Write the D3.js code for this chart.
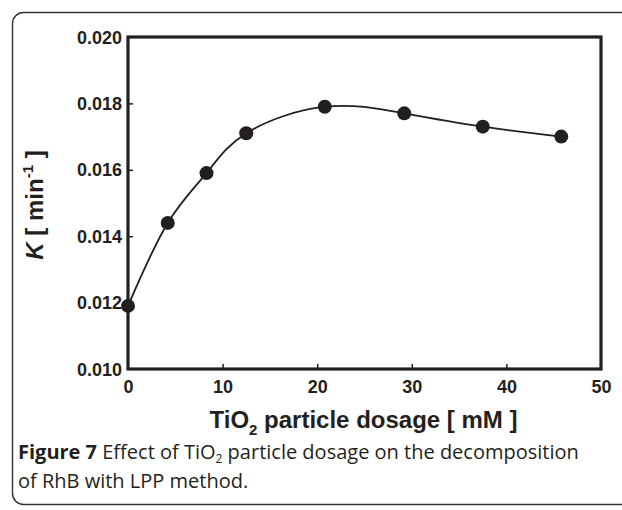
<!DOCTYPE html>
<html>
<head>
<meta charset="utf-8">
<script src="https://cdn.jsdelivr.net/npm/d3@7"></script>
<style>
  body { margin: 0; background: #fff; }
  svg { display: block; }
</style>
</head>
<body>
<svg id="chart" width="622" height="510"></svg>
<script>
// dosage of TiO2 [mM] and rate constant K [1/min]
const dosage = [0, 4.2, 8.3, 12.5, 20.8, 29.2, 37.5, 45.8];
const rateK = [0.0119, 0.0144, 0.0159, 0.0171, 0.0179, 0.0177, 0.0173, 0.0170];
const xTicks = [0, 10, 20, 30, 40, 50];
const yTicks = [0.010, 0.012, 0.014, 0.016, 0.018, 0.020];

const margin = { top: 37, right: 21, bottom: 141, left: 128 };
const W = 622, H = 510;
const w = W - margin.left - margin.right;
const h = H - margin.top - margin.bottom;

const svg = d3.select('#chart');

// rounded frame around figure and caption (right side runs off the page)
svg.append("rect")
    .attr("x", 12.5).attr("y", 12.5)
    .attr("width", 700).attr("height", 492)
    .attr("rx", 11).attr("ry", 11)
    .attr("fill", "none")
    .attr("stroke", "#333")
    .attr("stroke-width", 1.4);

const g = svg.append("g")
    .attr("transform", `translate(${margin.left},${margin.top})`);

const x = d3.scaleLinear().domain([0, 50]).range([0, w]);
const y = d3.scaleLinear().domain([0.010, 0.020]).range([h, 0]);

const font = "'Liberation Sans', Arial, sans-serif";

// axes, ticks pointing inward
const xAxis = g.append("g")
    .attr("transform", `translate(0,${h})`)
    .call(d3.axisBottom(x).tickValues(xTicks).tickSize(-5).tickPadding(10).tickFormat(d3.format("d")));
const yAxis = g.append("g")
    .call(d3.axisLeft(y).tickValues(yTicks).tickSize(-5).tickPadding(6).tickFormat(d3.format(".3f")));

[xAxis, yAxis].forEach(a => {
    a.select(".domain").remove();
    a.attr("font-size", 18).attr("font-family", font).attr("font-weight", "bold");
    a.selectAll("line").attr("stroke", "#231f20").attr("stroke-width", 1.5);
    a.selectAll("text").attr("fill", "#231f20");
});
// ticks at the corners are hidden by the box
xAxis.selectAll(".tick line").filter(d => d === 0 || d === 50).remove();
yAxis.selectAll(".tick line").filter(d => d === 0.010 || d === 0.020).remove();
xAxis.selectAll(".tick text").attr("dy", "0.75em");
yAxis.selectAll(".tick text").attr("dy", "0.34em");

// plot box
g.append("rect")
    .attr("width", w).attr("height", h)
    .attr("fill", "none")
    .attr("stroke", "#231f20")
    .attr("stroke-width", 3.2);

// smooth fitted curve
const line = d3.line()
    .x((d, i) => x(dosage[i]))
    .y(d => y(d))
    .curve(d3.curveNatural);

g.append("path")
    .datum(rateK)
    .attr("d", line)
    .attr("fill", "none")
    .attr("stroke", "#231f20")
    .attr("stroke-width", 1.8);

g.selectAll("circle")
    .data(rateK)
    .join("circle")
    .attr("cx", (d, i) => x(dosage[i]))
    .attr("cy", d => y(d))
    .attr("r", 7)
    .attr("fill", "#231f20");

// y label: K [ min-1 ]
const yl = svg.append("text")
    .attr("transform", `translate(43,${margin.top + h / 2 + 2}) rotate(-90)`)
    .attr("text-anchor", "middle")
    .attr("fill", "#231f20")
    .style("font", `bold 24px ${font}`);
yl.append("tspan").attr("font-style", "italic").text("K");
yl.append("tspan").text(" [ min");
yl.append("tspan").attr("font-size", 15).attr("dy", -10).text("-1");
yl.append("tspan").attr("dy", 10).text(" ]");

// x label: TiO2 particle dosage [ mM ]
const xl = svg.append("text")
    .attr("x", margin.left + w / 2 - 1)
    .attr("y", 428)
    .attr("text-anchor", "middle")
    .attr("fill", "#231f20")
    .style("font", `bold 24px ${font}`);
xl.append("tspan").text("TiO");
xl.append("tspan").attr("font-size", 15).attr("dy", 7).text("2");
xl.append("tspan").attr("dy", -7).text(" particle dosage [ mM ]");

// caption
const capFont = "'Open Sans', 'Noto Sans', sans-serif";
const c1 = svg.append("text")
    .attr("x", 18).attr("y", 459)
    .attr("fill", "#231f20")
    .style("font", `20px ${capFont}`);
c1.append("tspan").attr("font-weight", "bold").text("Figure 7");
c1.append("tspan").text(" Effect of TiO");
c1.append("tspan").attr("font-size", 12).attr("dy", 3.5).text("2");
c1.append("tspan").attr("dy", -3.5).text(" particle dosage on the decomposition");

svg.append("text")
    .attr("x", 18).attr("y", 488)
    .attr("fill", "#231f20")
    .style("font", `20px ${capFont}`)
    .text("of RhB with LPP method.");
</script>
</body>
</html>
